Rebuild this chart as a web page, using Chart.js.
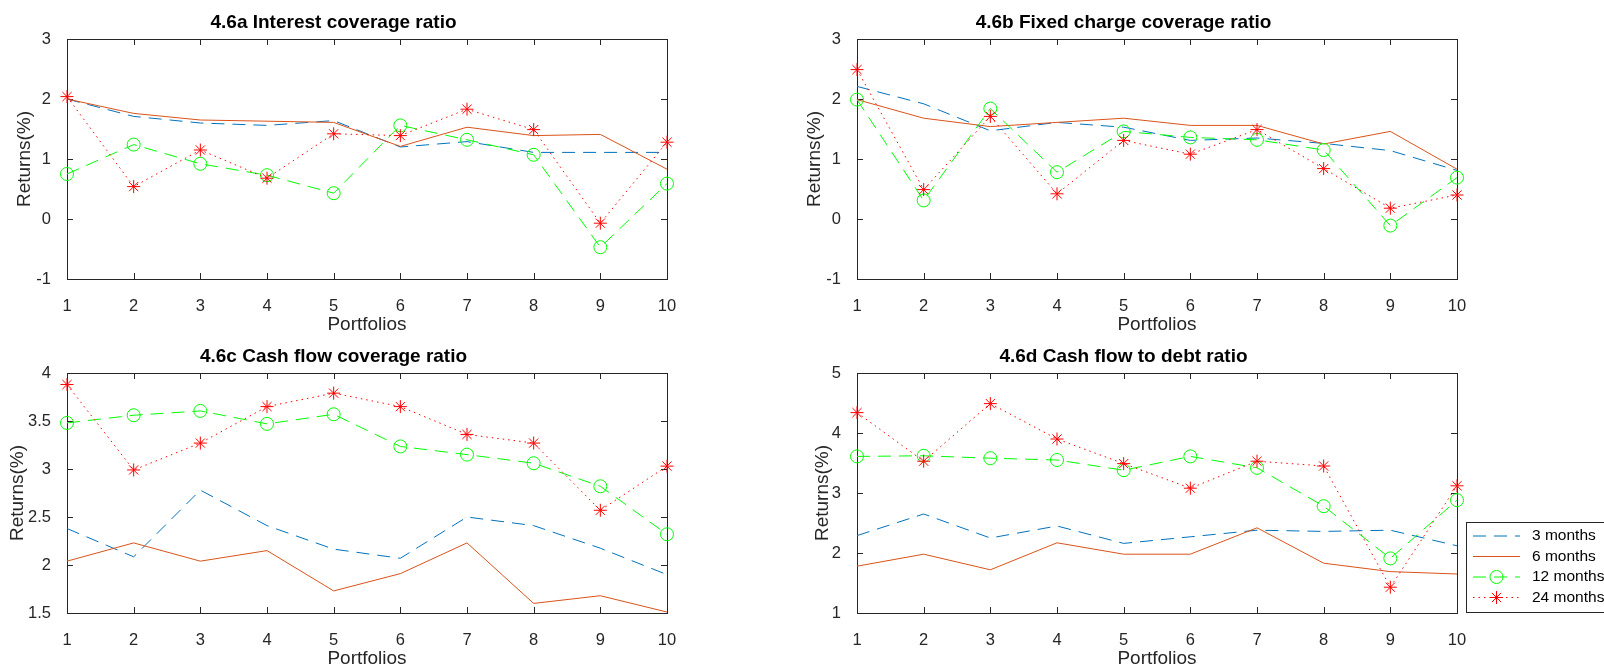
<!DOCTYPE html>
<html>
<head>
<meta charset="utf-8">
<script src="https://cdn.jsdelivr.net/npm/chart.js@4.4.0/dist/chart.umd.min.js"></script>
<style>
  html, body { margin: 0; padding: 0; background: #fff; overflow: hidden; }
  body { width: 1604px; height: 669px; position: relative; }
  canvas { position: absolute; display: block; }
</style>
</head>
<body>
<canvas id="chartA" width="700" height="336" style="left:0px;top:0px"></canvas>
<canvas id="chartB" width="700" height="336" style="left:790px;top:0px"></canvas>
<canvas id="chartC" width="700" height="336" style="left:0px;top:334px"></canvas>
<canvas id="chartD" width="814" height="336" style="left:790px;top:334px"></canvas>
<script>
// portfolios on the x axis
const portfolios = ['1', '2', '3', '4', '5', '6', '7', '8', '9', '10'];
const seriesNames = ['3 months', '6 months', '12 months', '24 months'];

// 4.6a Interest coverage ratio
const icr3  = [2.00, 1.71, 1.60, 1.56, 1.64, 1.20, 1.29, 1.11, 1.11, 1.11];
const icr6  = [2.00, 1.76, 1.65, 1.63, 1.61, 1.21, 1.53, 1.39, 1.41, 0.83];
const icr12 = [0.75, 1.24, 0.92, 0.73, 0.43, 1.56, 1.32, 1.07, -0.47, 0.59];
const icr24 = [2.04, 0.54, 1.15, 0.68, 1.42, 1.39, 1.83, 1.49, -0.07, 1.28];
const icrTicks = [-1, 0, 1, 2, 3];

// 4.6b Fixed charge coverage ratio
const fcr3  = [2.21, 1.92, 1.47, 1.61, 1.53, 1.31, 1.35, 1.26, 1.14, 0.81];
const fcr6  = [1.99, 1.68, 1.54, 1.61, 1.68, 1.56, 1.56, 1.25, 1.46, 0.83];
const fcr12 = [1.99, 0.31, 1.84, 0.78, 1.46, 1.36, 1.32, 1.15, -0.11, 0.69];
const fcr24 = [2.49, 0.49, 1.71, 0.42, 1.31, 1.08, 1.49, 0.84, 0.18, 0.40];
const fcrTicks = [-1, 0, 1, 2, 3];

// 4.6c Cash flow coverage ratio
const cfc3  = [2.38, 2.085, 2.78, 2.41, 2.165, 2.07, 2.50, 2.41, 2.175, 1.90];
const cfc6  = [2.04, 2.23, 2.04, 2.15, 1.73, 1.91, 2.23, 1.60, 1.68, 1.51];
const cfc12 = [3.48, 3.56, 3.605, 3.47, 3.57, 3.235, 3.15, 3.06, 2.82, 2.32];
const cfc24 = [3.88, 2.99, 3.27, 3.65, 3.79, 3.65, 3.36, 3.27, 2.57, 3.03];
const cfcTicks = [1.5, 2, 2.5, 3, 3.5, 4];

// 4.6d Cash flow to debt ratio
const cfd3  = [2.29, 2.65, 2.25, 2.45, 2.16, 2.27, 2.38, 2.36, 2.38, 2.12];
const cfd6  = [1.78, 1.98, 1.72, 2.17, 1.98, 1.98, 2.42, 1.83, 1.69, 1.65];
const cfd12 = [3.61, 3.62, 3.58, 3.55, 3.38, 3.61, 3.42, 2.78, 1.91, 2.88];
const cfd24 = [4.34, 3.53, 4.49, 3.90, 3.49, 3.08, 3.53, 3.45, 1.43, 3.12];
const cfdTicks = [1, 2, 3, 4, 5];

const AXIS = '#262626';
const FONT = "'Liberation Sans', Arial, sans-serif";
Chart.defaults.font.family = FONT;
Chart.defaults.color = AXIS;

// box round the axes with short inward ticks, like the matlab figure
const axesFrame = {
    id: 'axesFrame',
    beforeDatasetsDraw(chart) {
        const { ctx, chartArea: a, scales: { x, y } } = chart;
        const len = 6;
        ctx.save();
        ctx.strokeStyle = AXIS;
        ctx.lineWidth = 1;
        ctx.beginPath();
        x.ticks.forEach((t, i) => {
            const px = Math.round(x.getPixelForTick(i)) + 0.5;
            ctx.moveTo(px, a.bottom); ctx.lineTo(px, a.bottom - len);
            ctx.moveTo(px, a.top); ctx.lineTo(px, a.top + len);
        });
        y.ticks.forEach(t => {
            const py = Math.round(y.getPixelForValue(t.value)) + 0.5;
            ctx.moveTo(a.left, py); ctx.lineTo(a.left + len, py);
            ctx.moveTo(a.right, py); ctx.lineTo(a.right - len, py);
        });
        ctx.stroke();
        ctx.strokeRect(a.left + 0.5, a.top + 0.5, a.right - a.left, a.bottom - a.top);
        ctx.restore();
    }
};

// legend box, drawn from the dataset styles
const legendBox = {
    id: 'legendBox',
    afterDraw(chart, args, opts) {
        if (!opts.show) return;
        const ctx = chart.ctx;
        ctx.save();
        ctx.fillStyle = '#fff';
        ctx.fillRect(opts.x, opts.y, opts.w, opts.h);
        ctx.strokeStyle = AXIS;
        ctx.lineWidth = 1;
        ctx.strokeRect(opts.x + 0.5, opts.y + 0.5, opts.w, opts.h);
        ctx.font = opts.fontSize + 'px ' + FONT;
        ctx.textBaseline = 'middle';
        chart.data.datasets.forEach((ds, i) => {
            const ry = opts.y + opts.first + i * opts.step;
            const x0 = opts.x + opts.lineStart, x1 = opts.x + opts.lineEnd;
            ctx.strokeStyle = ds.borderColor;
            ctx.lineWidth = ds.borderWidth;
            ctx.setLineDash(ds.borderDash || []);
            ctx.beginPath();
            ctx.moveTo(x0, ry); ctx.lineTo(x1, ry);
            ctx.stroke();
            ctx.setLineDash([]);
            if (ds.pointRadius > 0) {
                ctx.fillStyle = 'rgba(0,0,0,0)';
                ctx.strokeStyle = ds.pointBorderColor;
                ctx.lineWidth = ds.pointBorderWidth;
                Chart.helpers.drawPoint(ctx, {
                    pointStyle: ds.pointStyle, radius: ds.pointRadius,
                    rotation: 0, borderWidth: ds.pointBorderWidth
                }, (x0 + x1) / 2, ry);
            }
            ctx.fillStyle = '#000';
            ctx.fillText(ds.label, opts.x + opts.textStart, ry);
        });
        ctx.restore();
    }
};

// ylabelPad: how far the rotated y label sits from the left edge
function makeChart(id, title, s3, s6, s12, s24, yTicks, padRight, ylabelPad, withLegend) {
    const datasets = [
        { label: seriesNames[0], data: s3, borderColor: '#0072BD', borderWidth: 1,
          borderDash: [13, 8], pointRadius: 0, order: 4 },
        { label: seriesNames[1], data: s6, borderColor: '#D95319', borderWidth: 1,
          pointRadius: 0, order: 3 },
        { label: seriesNames[2], data: s12, borderColor: '#00FF00', borderWidth: 1,
          borderDash: [13, 8], pointStyle: 'circle', pointRadius: 6.5,
          pointBorderWidth: 1, pointBorderColor: '#00FF00',
          pointBackgroundColor: 'rgba(0,0,0,0)', order: 2 },
        { label: seriesNames[3], data: s24, borderColor: '#FF0000', borderWidth: 1,
          borderDash: [1.5, 4], pointStyle: 'star', pointRadius: 6.5,
          pointBorderWidth: 1, pointBorderColor: '#FF0000',
          pointBackgroundColor: '#FF0000', order: 1 }
    ];
    datasets.forEach(d => { d.fill = false; d.tension = 0; d.clip = false; d.pointHoverRadius = d.pointRadius; });

    return new Chart(document.getElementById(id), {
        type: 'line',
        data: { labels: portfolios, datasets },
        plugins: [axesFrame, legendBox],
        options: {
            responsive: false,
            animation: false,
            events: [],
            layout: { padding: { left: 0, right: padRight, top: 0, bottom: 0 } },
            plugins: {
                legend: { display: false },
                tooltip: { enabled: false },
                title: {
                    display: true, text: title, color: '#000',
                    font: { size: 19, weight: 'bold' },
                    padding: { top: 11.3, bottom: 4.9 }
                },
                legendBox: {
                    show: withLegend, x: 676, y: 188, w: 160, h: 90,
                    first: 14, step: 20.5, lineStart: 7, lineEnd: 54,
                    textStart: 66, fontSize: 15.5
                }
            },
            scales: {
                x: {
                    type: 'category', offset: false,
                    grid: { display: false }, border: { display: false },
                    ticks: { padding: 10, font: { size: 16.5 }, color: AXIS, maxRotation: 0, autoSkip: false },
                    title: { display: true, text: 'Portfolios', color: AXIS, font: { size: 19 }, padding: 0 },
                    afterFit: s => { s.height = 57; }
                },
                y: {
                    min: yTicks[0], max: yTicks[yTicks.length - 1],
                    grid: { display: false }, border: { display: false },
                    ticks: { padding: 8, font: { size: 16.5 }, color: AXIS, callback: v => String(v) },
                    afterBuildTicks: s => { s.ticks = yTicks.map(v => ({ value: v })); },
                    title: { display: true, text: 'Returns(%)', color: AXIS, font: { size: 19 }, padding: { top: ylabelPad, bottom: 0 } },
                    afterFit: s => { s.width = 67; }
                }
            }
        }
    });
}

makeChart('chartA', '4.6a Interest coverage ratio', icr3, icr6, icr12, icr24, icrTicks, 33, 13, false);
makeChart('chartB', '4.6b Fixed charge coverage ratio', fcr3, fcr6, fcr12, fcr24, fcrTicks, 33, 13, false);
makeChart('chartC', '4.6c Cash flow coverage ratio', cfc3, cfc6, cfc12, cfc24, cfcTicks, 33, 6, false);
makeChart('chartD', '4.6d Cash flow to debt ratio', cfd3, cfd6, cfd12, cfd24, cfdTicks, 147, 21, true);
</script>
</body>
</html>
